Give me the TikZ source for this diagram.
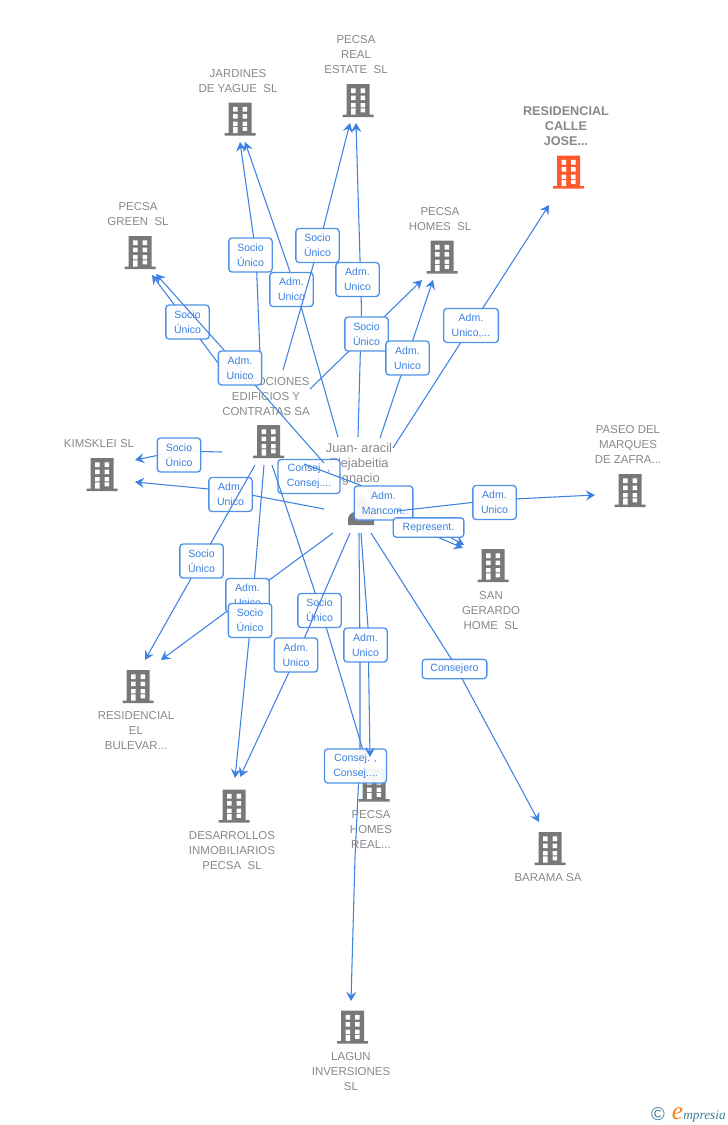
\documentclass[tikz,border=0pt]{standalone}
\usepackage{fontspec}
\setmainfont{Liberation Sans}
\newfontfamily\logofont{Liberation Serif}
\usetikzlibrary{arrows.meta}
\definecolor{edgeblue}{RGB}{62,130,226}
\definecolor{boxblue}{RGB}{78,146,232}
\definecolor{textblue}{RGB}{58,128,224}
\definecolor{namegrey}{RGB}{136,136,136}
\definecolor{icongrey}{RGB}{120,120,120}
\definecolor{iconred}{RGB}{255,90,44}
\definecolor{logoteal}{RGB}{62,125,155}
\definecolor{logoorange}{RGB}{245,130,32}
\tikzset{
  edgeline/.style={draw=edgeblue,line width=0.8pt,line join=round},
  arrowed/.style={edgeline,-{Stealth[length=6.8pt,width=7.6pt,inset=2.4pt]}},
  lab/.style={draw=boxblue,line width=1pt,rounded corners=2.4pt,fill=white,fill opacity=0.93,text opacity=1,
    text=textblue,font=\fontsize{7.9}{11.25}\selectfont,align=center,inner sep=0pt,
    minimum width=32.5pt,minimum height=25.5pt},
  widelab/.style={minimum width=46.5pt},
  oneline/.style={minimum height=14.5pt},
  entname/.style={text=namegrey,font=\fontsize{8.6}{11.25}\selectfont,align=center,inner sep=0pt,yshift=-0.5pt},
  personname/.style={text=namegrey,font=\fontsize{9.6}{11.25}\selectfont,align=center,inner sep=0pt},
  mainname/.style={text=namegrey,font=\fontsize{9.5}{11.4}\selectfont\bfseries,align=center,inner sep=0pt},
  pics/bldg/.style={code={
    \fill[#1] (-11.5,-33) rectangle (11.5,-2) (-15.5,-2.5) rectangle (15.5,0);
    \fill[white] (-7,-28.7) rectangle (-2.5,-24) (2.5,-28.7) rectangle (7,-24)
      (-7,-21.3) rectangle (-2.5,-17) (2.5,-21.3) rectangle (7,-17)
      (-7,-14) rectangle (-2.5,-9.7) (2.5,-14) rectangle (7,-9.7)
      (-7,-8.7) rectangle (-2.5,-2.5) (2.5,-8.7) rectangle (7,-4.7);
  }}
}
\begin{document}
\begin{tikzpicture}[x=0.75pt,y=-0.75pt]
\useasboundingbox (0,0) rectangle (728,1125);
% ---------- entities
\pic at (240,135.5) {bldg=icongrey};
\node[entname] (jardines) at (238,80.5) {JARDINES\\DE YAGUE\ \ SL};
\pic at (358,117) {bldg=icongrey};
\node[entname] (real) at (356,54) {PECSA\\REAL\\ESTATE\ \ SL};
\pic at (568.5,188.5) {bldg=iconred};
\node[mainname] (calle) at (566,126) {RESIDENCIAL\\CALLE\\JOSE...};
\pic at (140,269) {bldg=icongrey};
\node[entname] (green) at (138,213.5) {PECSA\\GREEN\ \ SL};
\pic at (442,273.5) {bldg=icongrey};
\node[entname] (homes) at (440,218.5) {PECSA\\HOMES\ \ SL};
\pic at (268.5,458) {bldg=icongrey};
\node[entname] (promo) at (266,396) {PROMOCIONES\\EDIFICIOS Y\\CONTRATAS SA};
\pic at (102,491) {bldg=icongrey};
\node[entname] (kimsklei) at (99,443) {KIMSKLEI SL};
\pic at (630,507) {bldg=icongrey};
\node[entname] (paseo) at (628,444) {PASEO DEL\\MARQUES\\DE ZAFRA...};
\pic at (493,582) {bldg=icongrey};
\node[entname] (gerardo) at (491,610) {SAN\\GERARDO\\HOME\ \ SL};
\pic at (138,703) {bldg=icongrey};
\node[entname] (bulevar) at (136,730) {RESIDENCIAL\\EL\\BULEVAR...};
\pic at (234,822.5) {bldg=icongrey};
\node[entname] (desa) at (232,850) {DESARROLLOS\\INMOBILIARIOS\\PECSA\ \ SL};
\pic at (374,801.5) {bldg=icongrey};
\node[entname] (homesreal) at (371,829) {PECSA\\HOMES\\REAL...};
\pic at (550,865) {bldg=icongrey};
\node[entname] (barama) at (548,877) {BARAMA SA};
\pic at (352.5,1043.5) {bldg=icongrey};
\node[entname] (lagun) at (351,1071) {LAGUN\\INVERSIONES\\SL};
% person
\fill[icongrey] (361,503) circle (6.5);
\fill[icongrey] (348,525) -- (348,520) .. controls (348,513) and (354,511) .. (361,511)
  .. controls (368,511) and (374,513) .. (374,520) -- (374,525) -- cycle;
\node[personname] (juan) at (359,464) {Juan- aracil\\Elejabeitia\\Ignacio};
% ---------- free ends of the connectors
\coordinate (pJ) at (261,380);   \coordinate (tJ1) at (240,142);
\coordinate (jJ) at (338,437);   \coordinate (tJ2) at (245,142);
\coordinate (pR) at (283,370);   \coordinate (tR1) at (350,123);
\coordinate (jR) at (358,437);   \coordinate (tR2) at (356,123);
\coordinate (pH) at (310,389);   \coordinate (tH1) at (422,280);
\coordinate (jH) at (380,438);   \coordinate (tH2) at (433,280);
\coordinate (jC) at (393,448);   \coordinate (tC) at (549,205);
\coordinate (pG) at (218,363);   \coordinate (tG1) at (152,275);
\coordinate (jG) at (324,463);   \coordinate (tG2) at (156,274);
\coordinate (pK) at (222,452);   \coordinate (tK1) at (135,460);
\coordinate (jK) at (324,509);   \coordinate (tK2) at (135,482);
\coordinate (pB) at (255,465);   \coordinate (tB1) at (145,660);
\coordinate (jB) at (333,533);   \coordinate (tB2) at (161,660);
\coordinate (pD) at (264,465);   \coordinate (tD1) at (235,778);
\coordinate (jD) at (350,533);   \coordinate (tD2) at (240,777);
\coordinate (pE) at (272,465);   \coordinate (tE1) at (365,757);
\coordinate (jE) at (361,533);   \coordinate (tE2) at (370,757);
\coordinate (jL) at (359,533);   \coordinate (tL) at (351,1001);
\coordinate (jM) at (371,533);   \coordinate (tM) at (539,822);
\coordinate (pS) at (304,464);   \coordinate (tS1) at (464,545);
\coordinate (jS) at (400,521);   \coordinate (tS2) at (463,548);
\coordinate (jP) at (397,511);   \coordinate (tP) at (595,495);
% ---------- connectors and their labels, in stacking order
\draw[arrowed] (pJ) -- (256,254) -- (tJ1);
\node[lab] (l1) at (250.5,255) {Socio\\Único};
\draw[arrowed] (jJ) -- (296,289) -- (tJ2);
\node[lab] (l2) at (291.5,289.5) {Adm.\\Unico};
\draw[arrowed] (pR) -- (319,245) -- (tR1);
\node[lab] (l3) at (317.5,245.5) {Socio\\Único};
\draw[arrowed] (jR) -- (361.5,310) -- (tR2);
\node[lab] (l4) at (357.5,279.5) {Adm.\\Unico};
\draw[arrowed] (pH) -- (tH1);
\node[lab] (l5) at (366.5,334) {Socio\\Único};
\draw[arrowed] (jH) -- (tH2);
\node[lab] (l6) at (407.5,358) {Adm.\\Unico};
\draw[arrowed] (jC) -- (tC);
\node[lab,minimum width=41pt] (l7) at (471,325.5) {Adm.\\Unico,...};
\draw[arrowed] (pG) -- (tG1);
\node[lab] (l8) at (187.5,322) {Socio\\Único};
\node[lab,widelab] (l9) at (309,476.5) {Consej. ,\\Consej....};
\draw[arrowed] (jG) -- (240,368) -- (tG2);
\node[lab] (l10) at (240,368) {Adm.\\Unico};
\draw[arrowed] (pK) -- (179,451) -- (tK1);
\node[lab] (l11) at (179,455) {Socio\\Único};
\draw[arrowed] (jK) -- (230,491) -- (tK2);
\node[lab] (l12) at (230.5,494.5) {Adm.\\Unico};
\draw[arrowed] (pB) -- (tB1);
\node[lab] (l13) at (201.5,561) {Socio\\Único};
\draw[arrowed] (pD) -- (251,620) -- (tD1);
\draw[arrowed] (jB) -- (tB2);
\node[lab] (l14) at (247.5,595.5) {Adm.\\Unico};
\node[lab] (l15) at (250,620.5) {Socio\\Único};
\draw[arrowed] (pE) -- (321,610) -- (tE1);
\node[lab] (l16) at (319.5,610.5) {Socio\\Único};
\draw[arrowed] (jD) -- (297,655) -- (tD2);
\node[lab] (l17) at (296,655) {Adm.\\Unico};
\draw[arrowed] (jL) -- (360,660) -- (360,750) -- (358.5,783) -- (355,858) -- (tL);
\node[lab,widelab] (l18) at (355.5,766) {Consej. ,\\Consej....};
\draw[arrowed] (jE) -- (368,627) -- (tE2);
\node[lab] (l19) at (365.5,645) {Adm.\\Unico};
\draw[arrowed] (jM) -- (452,660) -- (tM);
\node[lab,oneline,minimum width=48.5pt] (l20) at (454.5,669) {Consejero};
\draw[arrowed] (pS) -- (360,485) -- (413,517) -- (tS1);
\node[lab,minimum width=44pt] (l21) at (383.5,503) {Adm.\\Mancom.};
\draw[arrowed] (jS) -- (tS2);
\node[lab,oneline,minimum width=53pt] (l22) at (428.5,527.5) {Represent.};
\draw[arrowed] (jP) -- (494,500) -- (tP);
\node[lab] (l23) at (494.5,502.5) {Adm.\\Unico};
% ---------- footer
\node[inner sep=0pt,text=logoteal,font=\fontsize{14}{15}\selectfont] (copy) at (658,1114) {©};
\node[inner sep=0pt,anchor=base,text=logoorange,font=\logofont\itshape\fontsize{19}{20}\selectfont] (logoe) at (677.5,1119) {e};
\node[inner sep=0pt,anchor=base west,text=logoteal,font=\logofont\itshape\fontsize{10}{12}\selectfont] (logom) at (683,1119) {mpresia};
\end{tikzpicture}
\end{document}
